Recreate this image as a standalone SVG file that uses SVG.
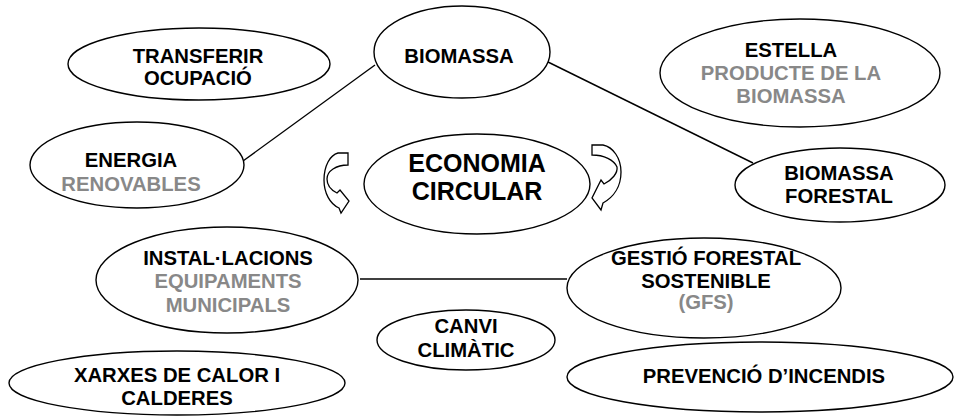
<svg xmlns="http://www.w3.org/2000/svg" width="955" height="417" viewBox="0 0 955 417">
<style>
.n{fill:#fff;stroke:#000;stroke-width:1.4}
.t{font-family:"Liberation Sans",Arial,sans-serif;font-weight:bold;font-size:20.3px;text-anchor:middle;fill:#000}
.g{fill:#888}
.big{font-size:25px}
.c{stroke:#000;stroke-width:1.4;fill:none}
.a{fill:#fff;stroke:#000;stroke-width:1.3;stroke-linejoin:miter}
</style>
<rect width="955" height="417" fill="#fff"/>
<g id="connectors">
<line class="c" x1="375" y1="65" x2="243" y2="161"/>
<line class="c" x1="548" y1="62" x2="753" y2="163"/>
<line class="c" x1="360" y1="279" x2="567" y2="279"/>
<path class="a" d="M338 153 L348 153 L348 165 C336 165 327 171 327 179 C327 185 331 190 337 193 L340 190 L349 201 L341 213 L339 208 C330 204 324 193 324 180 C324 166 330 155 338 153 Z"/>
<path class="a" d="M603 145 L592 145 L592 155 C604 155 614 160 617 167 C618 173 612 180 604 184 L601 180 L592 198 L601 210 L603 203 C614 197 621 186 621 172 C621 158 613 147 603 145 Z"/>
</g>
<g id="transferir">
<ellipse class="n" cx="199" cy="64" rx="131" ry="36"/>
<text class="t" x="198" y="63">TRANSFERIR</text>
<text class="t" x="198" y="85">OCUPACIÓ</text>
</g>
<g id="biomassa">
<ellipse class="n" cx="462" cy="52" rx="88" ry="46"/>
<text class="t" x="459" y="63">BIOMASSA</text>
</g>
<g id="estella">
<ellipse class="n" cx="800" cy="73" rx="140" ry="54"/>
<text class="t" x="791" y="57">ESTELLA</text>
<text class="t g" x="791" y="80">PRODUCTE DE LA</text>
<text class="t g" x="791" y="103">BIOMASSA</text>
</g>
<g id="energia">
<ellipse class="n" cx="137" cy="165" rx="107" ry="43"/>
<text class="t" x="131" y="167">ENERGIA</text>
<text class="t g" x="131" y="191">RENOVABLES</text>
</g>
<g id="economia">
<ellipse class="n" cx="477" cy="184" rx="113" ry="50"/>
<text class="t big" x="477" y="172">ECONOMIA</text>
<text class="t big" x="477" y="200">CIRCULAR</text>
</g>
<g id="biomassa-forestal">
<ellipse class="n" cx="840" cy="185" rx="105" ry="37"/>
<text class="t" x="839" y="180">BIOMASSA</text>
<text class="t" x="839" y="203">FORESTAL</text>
</g>
<g id="installacions">
<ellipse class="n" cx="227" cy="280" rx="131" ry="53"/>
<text class="t" x="228" y="265">INSTAL·LACIONS</text>
<text class="t g" x="228" y="288">EQUIPAMENTS</text>
<text class="t g" x="228" y="312">MUNICIPALS</text>
</g>
<g id="gestio">
<ellipse class="n" cx="704" cy="288" rx="137" ry="50"/>
<text class="t" x="706" y="265">GESTIÓ FORESTAL</text>
<text class="t" x="706" y="288">SOSTENIBLE</text>
<text class="t g" x="706" y="309">(GFS)</text>
</g>
<g id="canvi">
<ellipse class="n" cx="466" cy="340" rx="89" ry="30"/>
<text class="t" x="466" y="333">CANVI</text>
<text class="t" x="466" y="357">CLIMÀTIC</text>
</g>
<g id="xarxes">
<ellipse class="n" cx="177" cy="383" rx="168" ry="32"/>
<text class="t" x="177" y="382">XARXES DE CALOR I</text>
<text class="t" x="177" y="405">CALDERES</text>
</g>
<g id="prevencio">
<ellipse class="n" cx="760" cy="377" rx="193" ry="35"/>
<text class="t" x="764" y="383">PREVENCIÓ D’INCENDIS</text>
</g>
</svg>
